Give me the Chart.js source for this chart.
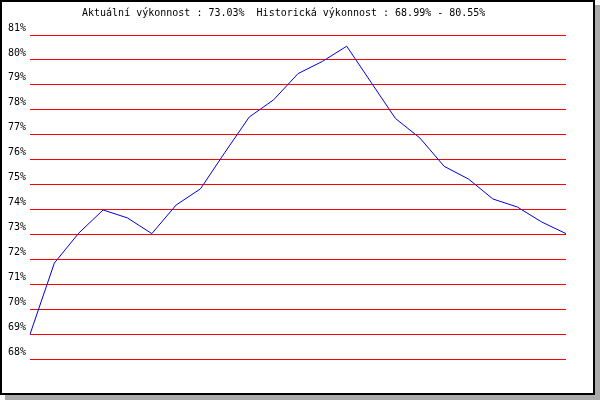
<!DOCTYPE html>
<html>
<head>
<meta charset="utf-8">
<script src="https://cdn.jsdelivr.net/npm/chart.js@4/dist/chart.umd.min.js"></script>
<style>
  html, body { margin: 0; padding: 0; background: #ffffff; }
  #frame { position: absolute; left: 0; top: 0; width: 591px; height: 391px;
           border: 2px solid #000; background: #fff; box-shadow: 5px 5px 0 #aaaaaa; }
  #wrap { position: absolute; left: 0; top: 0; width: 600px; height: 400px; }
</style>
</head>
<body>
<div id="frame"></div>
<div id="wrap"><canvas id="c" width="600" height="400"></canvas></div>
<script>
const titleText = "Aktuální výkonnost : 73.03%  Historická výkonnost : 68.99% - 80.55%";
const categories = ["1","2","3","4","5","6","7","8","9","10","11","12","13","14","15","16","17","18","19","20","21","22","23"];
const performance = [68.99, 71.85, 73.05, 73.98, 73.66, 73.03, 74.18, 74.83, 76.29, 77.71, 78.40, 79.45, 79.94, 80.55, 79.10, 77.65, 76.87, 75.73, 75.22, 74.42, 74.10, 73.50, 73.03];
const yMin = 68;
const yMax = 81;

const titlePlugin = {
  id: 'leftTitle',
  afterDraw(chart) {
    const ctx = chart.ctx;
    ctx.save();
    ctx.font = '10px "DejaVu Sans Mono", monospace';
    ctx.fillStyle = '#000';
    ctx.textAlign = 'left';
    ctx.textBaseline = 'middle';
    ctx.fillText(titleText, 82, 13);
    ctx.restore();
  }
};

new Chart(document.getElementById('c'), {
  type: 'line',
  data: {
    labels: categories,
    datasets: [{
      data: performance,
      borderColor: '#0000dd',
      borderWidth: 1,
      pointRadius: 0,
      tension: 0,
      fill: false
    }]
  },
  options: {
    responsive: false,
    animation: false,
    devicePixelRatio: 1,
    layout: { padding: { top: 35, right: 34, bottom: 41, left: 0 } },
    plugins: { legend: { display: false }, tooltip: { enabled: false }, title: { display: false } },
    scales: {
      x: { display: false, offset: false },
      y: {
        min: yMin, max: yMax,
        afterFit(scale) { scale.width = 30; },
        border: { display: false },
        grid: { color: '#ff0000', lineWidth: 1, drawTicks: false },
        ticks: {
          stepSize: 1,
          padding: 4,
          labelOffset: -7,
          color: '#000',
          font: { family: '"DejaVu Sans Mono", monospace', size: 10 },
          callback: (v) => v + '%'
        }
      }
    }
  },
  plugins: [titlePlugin]
});
</script>
</body>
</html>
